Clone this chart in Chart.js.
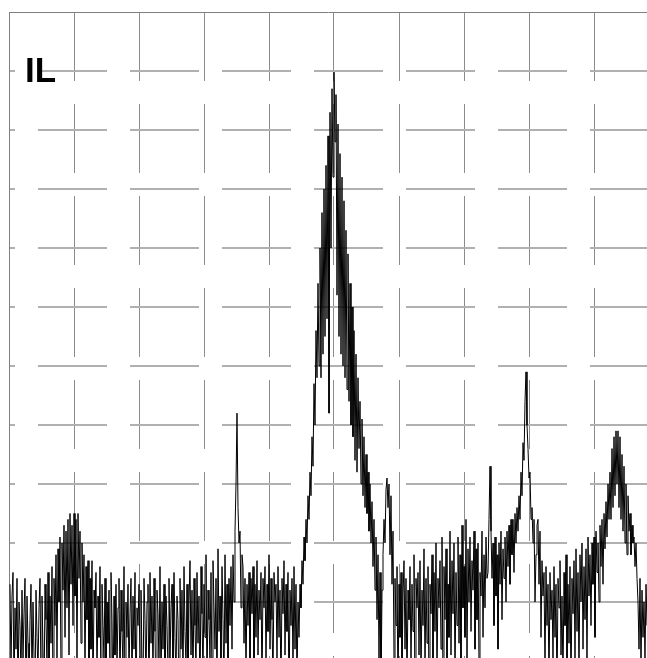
<!DOCTYPE html>
<html>
<head>
<meta charset="utf-8">
<script src="https://cdn.jsdelivr.net/npm/chart.js@4.4.1/dist/chart.umd.min.js"></script>
<style>
  html, body { margin: 0; padding: 0; background: #fff; }
  #wrap { width: 647px; height: 658px; }
</style>
</head>
<body>
<div id="wrap"><canvas id="trace" width="647" height="658"></canvas></div>
<script>
// ─── TRACE DATA ─────────────────────────────────────────────────────
// level in dB (0 = top graticule line), one sample per px
const levels = [
  // floor, left edge
  -97,-112,-99,-95,-116,-101,-108,-96,-118,-100,-104,-113,-98,-110,-102,-96,-119,-99,-107,-115,
  -103,-97,-114,-100,-109,-117,-98,-106,-112,-101,-96,-115,-99,-108,-118,-97,-103,-111,-95,-113,
  // small bump near first division
  -99,-107,-94,-116,-96,-104,-92,-110,-91,-100,-89,-113,-90,-98,-87,-106,-88,-101,-86,-109,
  -85,-97,-87,-104,-85,-99,-86,-111,-85,-96,-88,-107,-90,-100,-92,-112,-94,-103,-93,-115,
  // floor
  -96,-108,-93,-117,-98,-101,-95,-113,-99,-106,-94,-119,-97,-104,-110,-96,-115,-100,-107,-98,
  -114,-95,-103,-118,-99,-109,-97,-112,-101,-96,-116,-98,-105,-111,-94,-117,-100,-106,-97,-113,
  -102,-96,-115,-99,-108,-95,-119,-101,-104,-97,-112,-98,-110,-116,-96,-103,-114,-100,-97,-118,
  -95,-107,-99,-113,-96,-105,-117,-98,-102,-111,-94,-115,-100,-108,-97,-119,-99,-104,-112,-96,
  -110,-101,-97,-116,-95,-106,-113,-99,-103,-118,-96,-108,-98,-114,-94,-105,-111,-97,-117,-100,
  -93,-109,-98,-115,-96,-104,-112,-95,-107,-99,-118,-94,-102,-113,-97,-106,-92,-116,-98,-103,
  -110,-95,-114,-93,-101,-108,-96,-117,-91,-105,-99,-112,-94,-103,-115,-92,-107,-97,-111,-96,
  // narrow spike
  -104,-94,-108,-92,-100,-88,-80,-68,-84,-90,-88,-101,-92,-94,-107,-96,-113,-97,-104,-95,
  // floor
  -110,-96,-102,-94,-114,-97,-106,-93,-109,-98,-103,-95,-116,-96,-101,-94,-111,-97,-105,-92,
  -108,-96,-103,-114,-95,-100,-97,-110,-94,-106,-98,-117,-96,-102,-93,-109,-97,-105,-95,-119,
  // main carrier
  -98,-104,-96,-112,-94,-108,-97,-115,-100,-106,-97,-101,-93,-97,-89,-93,-86,-90,-82,-86,
  -78,-82,-72,-77,-63,-70,-54,-62,-46,-60,-40,-62,-34,-58,-30,-55,-26,-52,-21,-68,
  -17,-40,-13,-28,-10.2,-22,-14,-48,-19,-55,-24,-58,-28,-60,-32,-62,-37,-64,-41,-66,
  -46,-70,-50,-72,-54,-76,-58,-78,-62,-74,-66,-80,-69,-82,-72,-84,-75,-85,-78,-88,
  -80,-90,-83,-94,-86,-98,-89,-103,-92,-110,-95,-116,-98,-92,-86,-90,-81,-79,-84,-80,
  // floor, slowly rising
  -92,-82,-97,-88,-110,-96,-104,-94,-117,-97,-106,-95,-113,-99,-93,-108,-96,-115,-98,-103,
  -94,-111,-97,-105,-92,-118,-96,-101,-95,-109,-93,-114,-98,-104,-91,-112,-96,-107,-94,-116,
  -97,-102,-92,-110,-95,-105,-90,-113,-96,-101,-93,-108,-89,-115,-94,-103,-91,-111,-97,-106,
  -88,-109,-93,-102,-90,-114,-95,-104,-89,-107,-92,-112,-87,-101,-94,-106,-86,-110,-91,-100,
  -89,-105,-93,-98,-88,-108,-91,-103,-90,-111,-95,-99,-88,-106,-92,-101,-89,-96,-95,-86,
  // spike + second peak
  -77,-88,-96,-90,-104,-89,-99,-92,-108,-90,-97,-88,-103,-91,-96,-89,-100,-88,-94,-87,
  -97,-86,-92,-86,-95,-85,-90,-84,-88,-82,-86,-78,-82,-73,-76,-66,-61,-70,-74,-79,
  -78,-86,-84,-90,-86,-100,-92,-87,-86,-97,-88,-106,-93,-99,-95,-112,-94,-104,-97,-115,
  // floor
  -95,-103,-98,-110,-94,-106,-97,-117,-96,-101,-93,-109,-99,-114,-95,-104,-92,-112,-97,-107,
  -94,-116,-96,-102,-93,-110,-91,-105,-95,-113,-92,-100,-90,-108,-94,-103,-91,-111,-89,-99,
  // third peak, right edge
  -92,-104,-90,-97,-89,-106,-88,-95,-90,-100,-87,-94,-86,-97,-85,-91,-83,-89,-80,-86,
  -78,-86,-74,-84,-72,-82,-71,-80,-71,-84,-72,-86,-75,-88,-77,-90,-80,-92,-82,-88,
  -85,-92,-87,-90,-89,-94,-90,-96,-100,-108,-96,-112,-98,-106,-100,-110,-97,-104
];

const sweepStart = 1 / 65;     // divisions from left graticule edge
const sweepStep = 1 / 65;
const xDivisions = 638 / 65;   // visible part of screen
const yTop = 0;
const yBottom = -109.5;
const markerLabel = 'IL';

const points = levels.map((v, i) => ({ x: sweepStart + i * sweepStep, y: v }));

const dashed = [69, 23];

const labelPlugin = {
  id: 'ilLabel',
  afterDraw(chart) {
    const ctx = chart.ctx;
    ctx.save();
    ctx.font = 'bold 35px "Liberation Sans", Arial, sans-serif';
    ctx.fillStyle = '#000';
    ctx.textBaseline = 'alphabetic';
    ctx.fillText(markerLabel, 25, 82);
    ctx.restore();
  }
};

new Chart(document.getElementById('trace'), {
  type: 'line',
  data: {
    datasets: [{
      data: points,
      borderColor: '#000',
      borderWidth: 1,
      pointRadius: 0,
      tension: 0,
      fill: false
    }]
  },
  options: {
    responsive: false,
    animation: false,
    layout: { padding: { left: 9, top: 12, right: 0, bottom: 0 } },
    plugins: { legend: { display: false }, tooltip: { enabled: false } },
    scales: {
      x: {
        type: 'linear', min: 0, max: xDivisions,
        ticks: { display: false, stepSize: 1, includeBounds: false },
        grid: { color: '#8c8c8c', lineWidth: 1, drawTicks: false },
        border: { display: false, dash: dashed, dashOffset: 0 },
        afterFit: s => { s.height = 0; }
      },
      y: {
        type: 'linear', min: yBottom, max: yTop,
        ticks: { display: false, stepSize: 10, includeBounds: false },
        grid: {
          drawTicks: false,
          color: c => (c.tick && c.tick.value === 0) ? '#808080' : '#b0b0b0',
          lineWidth: c => (c.tick && c.tick.value === 0) ? 1 : 2
        },
        border: {
          display: true, color: '#808080', width: 1,
          dash: c => (c.tick && c.tick.value === 0) ? [] : dashed,
          dashOffset: 64
        },
        afterFit: s => { s.width = 0; }
      }
    }
  },
  plugins: [labelPlugin]
});
</script>
</body>
</html>
